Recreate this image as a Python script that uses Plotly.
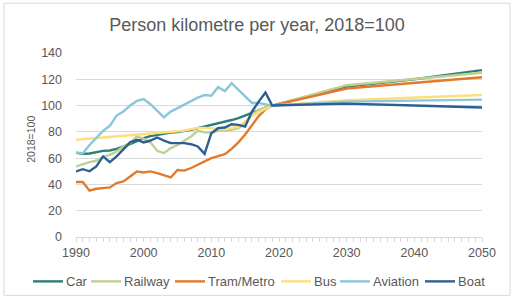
import plotly.graph_objects as go

years_hist = list(range(1990, 2020))
years_proj = [2030, 2040, 2050]

car_hist = [64, 63.3, 63.5, 64.5, 65.5, 65.8, 67, 69, 70.6, 73,
            75.2, 76.7, 77.7, 78.7, 79.5, 79.8, 80.5, 81.5, 82.8, 84,
            85.5, 86.5, 87.5, 89, 90.5, 92.5, 95, 97, 98.5, 100]
railway_hist = [53.7, 55.4, 57, 58, 61, 62.5, 65, 69, 71.4, 76.5,
                74.7, 72, 65.6, 63.8, 67.6, 70, 73, 76.5, 80.8, 79.7,
                79.5, 80.8, 80.8, 81.5, 82.8, 86.6, 93, 96.7, 98.5, 100]
tram_hist = [41.8, 41.8, 35.2, 36.7, 37.2, 37.7, 41, 42.3, 46, 49.9,
             49.1, 49.9, 48.6, 46.8, 45.3, 51, 50.5, 52.5, 55, 57,
             60, 61.5, 63, 67, 72, 78, 85, 92, 97, 100]
bus_hist = [74, 74.4, 74.8, 75.2, 75.6, 76, 76.5, 77, 77.4, 77.8,
            78.2, 78.6, 79, 79.5, 80, 80.5, 81, 82, 83, 83,
            82.5, 82, 82, 83, 84, 88, 92, 95, 97.5, 100]
aviation_hist = [64.3, 63.8, 70, 75.7, 80.8, 84.6, 92.4, 95.4, 100, 103.5,
                 105, 101, 96, 91, 95.4, 98, 101, 103.5, 106, 108,
                 107.5, 114, 111, 117, 112, 107, 102, 102, 101, 100]
boat_hist = [49.9, 51.6, 50, 53.7, 61.3, 57, 61.3, 66.3, 72, 74,
             72, 73.4, 75.7, 73.4, 71.4, 71.4, 71.4, 70.6, 68.9, 63.3,
             79, 82.8, 83.3, 85.8, 85.3, 84, 95.4, 103, 110, 100]

car_proj = [114.5, 120, 127]
railway_proj = [115.5, 120, 125]
tram_proj = [113, 117.5, 121.5]
bus_proj = [104, 106, 108]
aviation_proj = [103, 104, 104.5]
boat_proj = [101.5, 100, 98.5]

names = ["Car", "Railway", "Tram/Metro", "Bus", "Aviation", "Boat"]
colors = ["#2E7E78", "#BFD092", "#E27A2C", "#FDDF7E", "#8CC6DB", "#2D5F93"]
hist = [car_hist, railway_hist, tram_hist, bus_hist, aviation_hist, boat_hist]
proj = [car_proj, railway_proj, tram_proj, bus_proj, aviation_proj, boat_proj]

x_ticks = [1990, 2000, 2010, 2020, 2030, 2040, 2050]
y_ticks = [0, 20, 40, 60, 80, 100, 120, 140]

fig = go.Figure()
for n, c, h, p in zip(names, colors, hist, proj):
    fig.add_trace(go.Scatter(
        x=years_hist + years_proj, y=h + p, name=n, mode="lines",
        line=dict(color=c, width=2.4), showlegend=False))

font = "Liberation Sans, Arial, sans-serif"
grey = "#595959"
W, H = 514, 298
L, R, T, B = 76, 32, 53, 60.5
pw, ph = W - L - R, H - T - B

def px(xp):
    return (xp - L) / pw

def py(yp):
    return (H - B - yp) / ph

# legend layout (pixel positions of each key's line start)
leg_x = [33, 91, 175, 281, 340, 425]
leg_y = 282
shapes = [dict(type="rect", xref="paper", yref="paper",
               x0=px(4), x1=px(510), y0=py(296), y1=py(3),
               line=dict(color="#D9D9D9", width=1), layer="below")]
annotations = [dict(text="2018=100", textangle=-90, xref="paper", yref="paper",
                    x=px(31), y=py(140), xanchor="center", yanchor="middle",
                    showarrow=False, font=dict(size=10.5, color=grey))]
for n, c, lx in zip(names, colors, leg_x):
    shapes.append(dict(type="line", xref="paper", yref="paper",
                       x0=px(lx), x1=px(lx + 30), y0=py(leg_y), y1=py(leg_y),
                       line=dict(color=c, width=2.4)))
    annotations.append(dict(text=n, xref="paper", yref="paper",
                            x=px(lx + 31), y=py(leg_y), xanchor="left",
                            yanchor="middle", showarrow=False,
                            font=dict(size=13, color=grey)))

fig.update_layout(
    width=W, height=H,
    margin=dict(l=L, r=R, t=T, b=B),
    paper_bgcolor="white", plot_bgcolor="white",
    font=dict(family=font, color=grey, size=12.5),
    title=dict(text="Person kilometre per year, 2018=100",
               x=257 / W, xanchor="center", y=1 - 25 / H, yanchor="middle",
               font=dict(size=18, color=grey, family=font)),
    showlegend=False,
    xaxis=dict(range=[1990, 2050], tickvals=x_ticks,
               ticktext=[str(v) for v in x_ticks],
               showgrid=False, showline=True, linecolor="#D9D9D9",
               ticks="outside", ticklen=4, tickcolor="#D9D9D9",
               minor=dict(dtick=1, ticks="outside", ticklen=4,
                          tickcolor="#D9D9D9", showgrid=False),
               zeroline=False, tickfont=dict(size=12.5, color=grey)),
    yaxis=dict(range=[0, 140], tickvals=y_ticks,
               showgrid=True, gridcolor="#D9D9D9", gridwidth=1,
               zeroline=False, showline=False, ticks="",
               ticklabelstandoff=13,
               tickfont=dict(size=12.5, color=grey)),
    shapes=shapes,
    annotations=annotations,
)

fig.write_html("out.html")
